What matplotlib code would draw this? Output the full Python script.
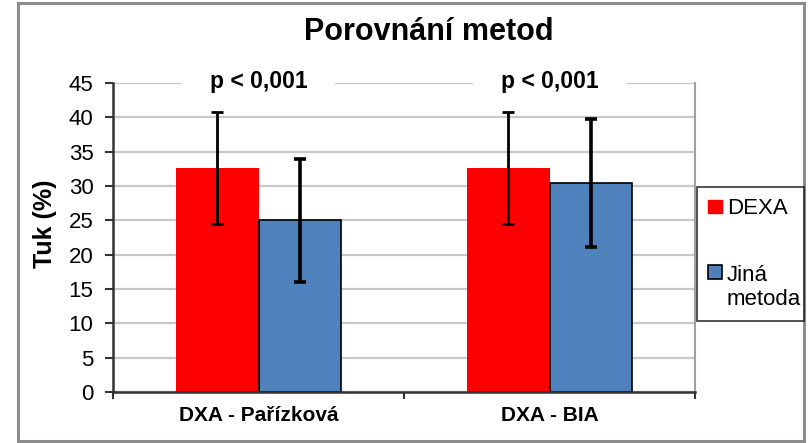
import matplotlib
matplotlib.use("Agg")
import matplotlib.pyplot as plt
from matplotlib.patches import Rectangle
from matplotlib.path import Path
from matplotlib.legend_handler import HandlerPatch, update_from_first_child
import numpy as np

plt.rcParams["font.family"] = ["Liberation Sans", "DejaVu Sans"]

categories = ["DXA - Pařízková", "DXA - BIA"]
series = ["DEXA", "Jiná\nmetoda"]
dexa_mean = [32.6, 32.6]
dexa_sd = [8.2, 8.2]
other_mean = [25.0, 30.4]
other_sd = [9.0, 9.3]
p_labels = ["p < 0,001", "p < 0,001"]
yticks = [0, 5, 10, 15, 20, 25, 30, 35, 40, 45]

RED = "#FF0000"
BLUE = "#4F81BD"
GRID = "#C8C8C8"
AXIS = "#333333"

W, H = 810, 443
fig = plt.figure(figsize=(W / 100, H / 100), dpi=100)
fig.patch.set_facecolor("white")

# plot area placed in pixel units of the reference
ax = fig.add_axes([113 / W, 1 - 392 / H, (695 - 113) / W, (392 - 83) / H])

x = np.arange(len(categories))
bw = 0.283
b1 = ax.bar(x - bw / 2, dexa_mean, bw, color=RED, label=series[0], zorder=2)
b2 = ax.bar(x + bw / 2, other_mean, bw, color=BLUE, edgecolor="black",
            linewidth=1.2, label=series[1], zorder=2)
ax.errorbar(x - bw / 2, dexa_mean, yerr=dexa_sd, fmt="none", ecolor="black",
            elinewidth=2, capsize=4, capthick=2, zorder=3)
ax.errorbar(x + bw / 2, other_mean, yerr=other_sd, fmt="none", ecolor="black",
            elinewidth=2.6, capsize=4, capthick=2.6, zorder=3)

ax.set_xlim(-0.5, len(categories) - 0.5)
ax.set_ylim(0, 45)
ax.set_yticks(yticks)
ax.set_yticklabels([str(v) for v in yticks], fontsize=16)
ax.yaxis.grid(True, color=GRID, linewidth=1.6, zorder=0)
ax.set_axisbelow(True)

ax.set_xticks(x)
ax.set_xticklabels(categories, fontsize=15, fontweight="bold")
ax.tick_params(axis="x", length=0, pad=10)
ax.set_xticks([-0.5, 0.5, 1.5], minor=True)
ax.tick_params(axis="x", which="minor", length=5, width=1.5, color=AXIS,
               direction="out")
ax.tick_params(axis="y", length=6, width=1.5, color=AXIS,
               direction="out", pad=8)

for side in ["left", "bottom"]:
    ax.spines[side].set_color(AXIS)
    ax.spines[side].set_linewidth(1.8)
ax.spines["top"].set_visible(False)
ax.spines["right"].set_color("#A0A0A0")
ax.spines["right"].set_linewidth(1.5)

ax.set_ylabel("Tuk (%)", fontsize=18, fontweight="bold")
ax.yaxis.set_label_coords(-0.096, 0.544)


def wide_box(x0, y0, width, height, mutation_size):
    px = mutation_size * 1.2
    py = mutation_size * 0.2
    x0, x1 = x0 - px, x0 + width + px
    y0, y1 = y0 - py, y0 + height + py
    return Path([(x0, y0), (x1, y0), (x1, y1), (x0, y1), (x0, y0)],
                closed=True)


for xi, lab in zip(x, p_labels):
    ax.annotate(lab, (xi, 45), xytext=(0, -3.8), textcoords="offset points",
                ha="center", va="baseline", fontsize=16.5, fontweight="bold",
                zorder=1, annotation_clip=False,
                bbox=dict(boxstyle=wide_box, facecolor="white",
                          edgecolor="none"))

fig.text(429 / W, 1 - 40 / H, "Porovnání metod", ha="center",
         va="baseline", fontsize=22, fontweight="bold")


def top_square(legend, orig_handle, xdescent, ydescent, width, height,
               fontsize):
    # square next to the first line of a two-line label
    shift = 0.7 * fontsize if "\n" in orig_handle.get_label() else 0
    return Rectangle((-xdescent, -ydescent + shift), width, height)


leg = fig.legend(handles=[b1, b2], loc="upper left",
                 bbox_to_anchor=(697 / W, 1 - 187 / H, 107 / W, 0.0),
                 mode="expand", fontsize=16, frameon=True, fancybox=False,
                 edgecolor="black", handlelength=0.62, handleheight=0.55,
                 handletextpad=0.22, labelspacing=2.05, borderpad=0.5,
                 borderaxespad=0,
                 handler_map={type(b2): HandlerPatch(
                     patch_func=top_square,
                     update_func=update_from_first_child)})
leg.get_frame().set_linewidth(1.2)
for h in leg.legend_handles:
    h.set_edgecolor("black" if h.get_facecolor()[2] > 0.5 else RED)

fig.patches.append(Rectangle((18 / W, 2 / H), (804 - 18) / W, 438 / H,
                             transform=fig.transFigure, fill=False,
                             edgecolor="#8C8C8C", linewidth=2.2))

fig.savefig("out.png", dpi=100)
